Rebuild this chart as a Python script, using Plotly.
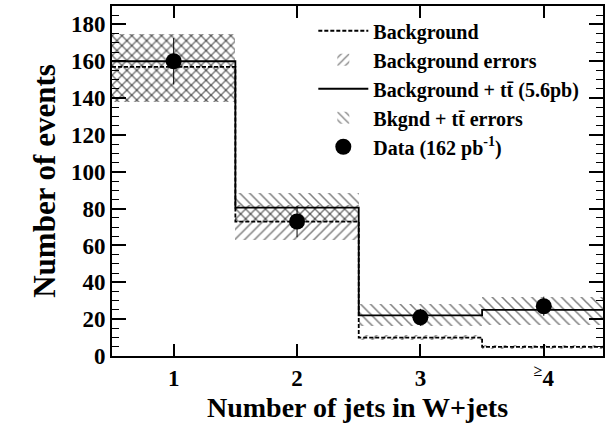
import plotly.graph_objects as go

# bin centres and labels
jets = [1, 2, 3, 4]
jet_labels = ["1", "2", "3", "<sup>≥</sup>4"]
edges = [0.5, 1.5, 2.5, 3.5, 4.5]

# predictions (events per bin)
bkg = [157, 73, 10, 5]
bkg_tt = [160, 80.5, 22, 25]
bkg_err_lo = [138, 63, 8.5, 4]
bkg_err_hi = [175, 82, 11.5, 6]
tot_err_lo = [138, 72.5, 16.5, 17]
tot_err_hi = [175, 88.5, 28, 32]

# data
data = [160, 73, 21, 27]
data_err = [12.6, 8.5, 4.6, 5.2]

FONT = "Liberation Serif"
CLEAR = "rgba(0,0,0,0)"


def band(lo, hi, shape, name, rank):
    return go.Bar(
        x=jets,
        y=[h - l for h, l in zip(hi, lo)],
        base=lo,
        width=1,
        name=name,
        legendrank=rank,
        marker=dict(
            color=CLEAR,
            line=dict(width=0),
            pattern=dict(shape=shape, fgcolor="black", bgcolor=CLEAR,
                         size=7, solidity=0.22, fillmode="overlay"),
        ),
        hoverinfo="skip",
    )


def step(vals, dash, name, rank):
    return go.Scatter(
        x=edges,
        y=vals + vals[-1:],
        mode="lines",
        line=dict(color="black", width=1.8, dash=dash, shape="hv"),
        name=name,
        legendrank=rank,
    )


fig = go.Figure()
fig.add_trace(band(bkg_err_lo, bkg_err_hi, "/", "<b>Background errors</b>", 2))
fig.add_trace(band(tot_err_lo, tot_err_hi, "\\", "<b>Bkgnd + tt̄ errors</b>", 4))
fig.add_trace(step(bkg, "4px,2px", "<b>Background</b>", 1))
fig.add_trace(step(bkg_tt, "solid", "<b>Background + tt̄ (5.6pb)</b>", 3))
fig.add_trace(go.Scatter(
    x=jets,
    y=data,
    mode="markers",
    marker=dict(color="black", size=16),
    error_y=dict(type="data", array=data_err, color="black", thickness=1, width=0),
    name="<b>Data (162 pb<sup>-1</sup>)</b>",
    legendrank=5,
))

fig.update_layout(
    width=608,
    height=427,
    margin=dict(l=112, r=3, t=6, b=71),
    paper_bgcolor="white",
    plot_bgcolor="white",
    barmode="overlay",
    bargap=0,
    font=dict(family=FONT, color="black", size=20),
    showlegend=True,
    legend=dict(
        x=0.41, y=0.985, xanchor="left", yanchor="top",
        font=dict(family=FONT, size=20, color="black"),
        bgcolor=CLEAR,
        itemwidth=50,
        tracegroupgap=0,
    ),
)

fig.update_xaxes(
    range=[0.5, 4.48],
    tickvals=jets,
    ticktext=["<b>%s</b>" % t for t in jet_labels],
    tickfont=dict(family=FONT, size=23),
    ticks="inside", ticklen=12, tickwidth=1.5, tickcolor="black",
    showline=True, linewidth=2, linecolor="black", mirror="allticks",
    showgrid=False, zeroline=False,
    title=dict(text="<b>Number of jets in W+jets</b>",
               font=dict(family=FONT, size=28), standoff=8),
)

fig.update_yaxes(
    range=[0, 190],
    tickvals=list(range(0, 181, 20)),
    ticktext=["<b>%d</b>" % v for v in range(0, 181, 20)],
    tickfont=dict(family=FONT, size=23),
    ticks="inside", ticklen=14, tickwidth=1.5, tickcolor="black",
    minor=dict(ticks="inside", ticklen=7, dtick=5, tick0=0, tickcolor="black", tickwidth=1),
    showline=True, linewidth=2, linecolor="black", mirror="allticks",
    showgrid=False, zeroline=False,
    title=dict(text="<b>Number of events</b>",
               font=dict(family=FONT, size=31), standoff=6),
)

fig.write_html(
    "out.html",
    config={"displayModeBar": False},
    post_script="document.body.style.margin='0';",
)
